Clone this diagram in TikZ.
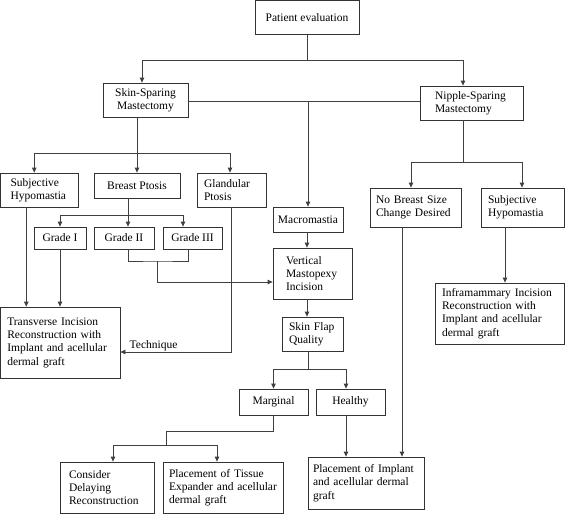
\documentclass[tikz,border=0pt]{standalone}
\usepackage{fontspec}
\setmainfont{Liberation Serif}
\usepackage{tikz}
\usetikzlibrary{arrows.meta, positioning, calc}
\newcommand{\flowfont}{\fontsize{11.5}{13.3}\selectfont\hyphenpenalty=10000\relax}
\tikzstyle{box} = [rectangle, draw=black!80, line width=0.8pt, inner xsep=0pt, inner ysep=0pt, align=left, font=\flowfont]
\tikzstyle{cbox} = [box, align=center]
\tikzstyle{conn} = [draw=black!75, line width=0.8pt]
\tikzstyle{arrow} = [conn, -{Triangle[length=5pt, width=4.5pt]}]
\tikzstyle{lbl} = [font=\flowfont, inner sep=1pt]

\begin{document}
\begin{tikzpicture}[x=1pt, y=-1pt]
    \useasboundingbox (0,0) rectangle (565,514);

    % top level
    \node (pe) [cbox, minimum width=104, minimum height=34] at (307,17.5) {Patient evaluation};
    \node (ssm) [cbox, minimum width=85, minimum height=34] at (145.5,100) {Skin-Sparing\\Mastectomy};
    \node (nsm) [box, minimum width=103, minimum height=34, text width=73] at (471.5,103) {Nipple-Sparing\\Mastectomy};

    % skin-sparing branch
    \node (sh1) [box, minimum width=77.5, minimum height=34, text width=57.5] at (39.25,190) {Subjective\\Hypomastia};
    \node (bp) [cbox, minimum width=86, minimum height=25] at (137,185.5) {Breast Ptosis};
    \node (gp) [box, minimum width=69, minimum height=34, text width=55] at (231.5,190) {Glandular\\Ptosis};
    \node (g1) [cbox, minimum width=52, minimum height=22] at (60,238) {Grade I};
    \node (g2) [cbox, minimum width=60, minimum height=22] at (124,238) {Grade II};
    \node (g3) [cbox, minimum width=59, minimum height=22] at (192.5,238) {Grade III};
    \node (tir) [box, minimum width=119.5, minimum height=71, text width=106] at (60.25,342.5) {Transverse Incision\\Reconstruction with\\Implant and acellular\\dermal graft};

    % macromastia column
    \node (mac) [cbox, minimum width=70, minimum height=25] at (308,219.5) {Macromastia};
    \node (vmi) [box, minimum width=79, minimum height=51, text width=53] at (312.5,273.5) {Vertical\\Mastopexy\\Incision};
    \node (sfq) [box, minimum width=61, minimum height=34, text width=47] at (312.5,334) {Skin Flap\\Quality};
    \node (mar) [cbox, minimum width=69, minimum height=26] at (273.5,402) {Marginal};
    \node (hea) [cbox, minimum width=69, minimum height=26] at (350.5,402) {Healthy};
    \node (cdr) [box, minimum width=94, minimum height=51, text width=76] at (107,487.5) {Consider\\Delaying\\Reconstruction};
    \node (pte) [box, minimum width=120, minimum height=51, text width=108] at (223,487.5) {Placement of Tissue\\Expander and acellular\\dermal graft};
    \node (pia) [box, minimum width=116, minimum height=52, text width=106] at (366,483) {Placement of Implant\\and acellular dermal\\graft};

    % nipple-sparing branch
    \node (nbs) [box, minimum width=91, minimum height=39, text width=79] at (415.5,207.5) {No Breast Size\\Change Desired};
    \node (sh2) [box, minimum width=83, minimum height=39, text width=69] at (522.5,207.5) {Subjective\\Hypomastia};
    \node (imi) [box, minimum width=129, minimum height=61, text width=115] at (499.5,313.5) {Inframammary Incision\\Reconstruction with\\Implant and acellular\\dermal graft};

    % junctions
    \coordinate (j0) at (307,60);
    \coordinate (j1) at (308,101);
    \coordinate (j2) at (137,153);
    \coordinate (j3) at (128,215);
    \coordinate (j4) at (157,261);
    \coordinate (j5) at (308,369);
    \coordinate (j6) at (463,162);
    \coordinate (j7) at (166,431);
    \coordinate (j8) at (166,445);

    \draw [conn] (pe) -- (j0);
    \draw [arrow] (j0) -| ([xshift=-3.5pt]ssm.north);
    \draw [arrow] (j0) -| ([xshift=-8.5pt]nsm.north);
    \draw [conn] (ssm.east |- j1) -- (nsm.west |- j1);
    \draw [arrow] (j1) -- (mac.north);

    \draw [conn] (ssm.south -| j2) -- (j2);
    \draw [arrow] (j2) -| ([xshift=-5pt]sh1.north);
    \draw [arrow] (j2) -- (bp.north);
    \draw [arrow] (j2) -| ([xshift=-1.5pt]gp.north);

    \draw [conn] (bp.south -| j3) -- (j3);
    \draw [arrow] (j3) -| (g1.north);
    \draw [arrow] (j3) -- (g2.north -| j3);
    \draw [arrow] (j3) -| ([xshift=-9.5pt]g3.north);

    \draw [conn] ([xshift=4pt]g2.south) |- (j4) -| ([xshift=-4.5pt]g3.south);
    \draw [arrow] (j4) |- ([yshift=-8.5pt]vmi.west);

    \draw [arrow] ([xshift=-13pt]sh1.south) -- ([xshift=-13pt]sh1.south |- tir.north);
    \draw [arrow] (g1.south) -- (g1.south |- tir.north);
    \draw [arrow] ([xshift=-0.5pt]gp.south) |- node[lbl, above, pos=0.85] {Technique} ([yshift=-9.5pt]tir.east);

    \draw [arrow] ([xshift=-1pt]mac.south) -- ([xshift=-1pt]mac.south |- vmi.north);
    \draw [arrow] ([xshift=-5.5pt]vmi.south) -- ([xshift=-5.5pt]vmi.south |- sfq.north);
    \draw [conn] (sfq.south -| j5) -- (j5);
    \draw [arrow] (j5) -| (mar.north);
    \draw [arrow] (j5) -| ([xshift=-4.5pt]hea.north);
    \draw [arrow] ([xshift=-4.5pt]hea.south) -- ([xshift=-4.5pt]hea.south |- pia.north);

    \draw [conn] (mar.south) |- (j7) -- (j8);
    \draw [arrow] (j8) -| ([xshift=6pt]cdr.north);
    \draw [arrow] (j8) -| ([xshift=-6pt]pte.north);

    \draw [conn] ([xshift=-8.5pt]nsm.south) -- (j6);
    \draw [arrow] (j6) -| ([xshift=-4.5pt]nbs.north);
    \draw [arrow] (j6) -| ([xshift=-0.5pt]sh2.north);
    \draw [arrow] ([xshift=-17.5pt]sh2.south) -- ([xshift=-17.5pt]sh2.south |- imi.north);
    \draw [arrow] ([xshift=-13.5pt]nbs.south) -- ([xshift=-13.5pt]nbs.south |- pia.north);
\end{tikzpicture}
\end{document}
